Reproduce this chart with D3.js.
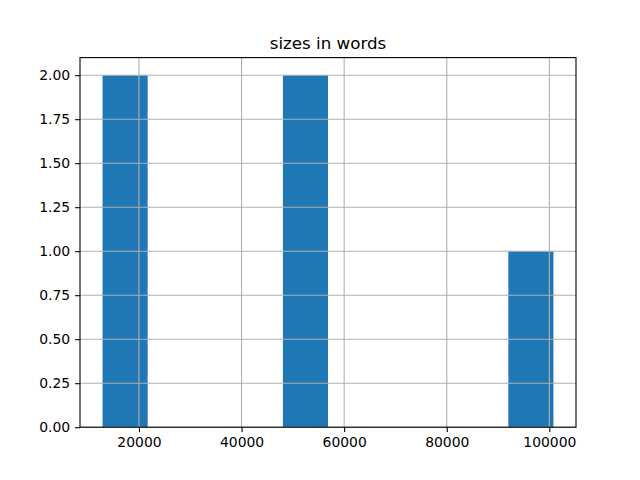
<!DOCTYPE html>
<html><head><meta charset="utf-8">
<script src="https://cdn.jsdelivr.net/npm/d3@7"></script>
<style>body{margin:0;background:#fff}svg{display:block}text{font-family:"DejaVu Sans",sans-serif;fill:#000}</style>
</head><body>
<script>
const sizes = [12900, 18500, 49500, 54000, 100800];
const binCount = 10;
const xTicks = [20000, 40000, 60000, 80000, 100000];
const yTicks = [0, 0.25, 0.5, 0.75, 1.0, 1.25, 1.5, 1.75, 2.0];
const title = "sizes in words";

const W = 640, H = 480;
const m = {left: 80, right: 576, top: 57.6, bottom: 427.2};
const svg = d3.select("body").append("svg").attr("width", W).attr("height", H);

const [mn, mx] = d3.extent(sizes);
const step = (mx - mn) / binCount;
const thresholds = d3.range(1, binCount).map(i => mn + i * step);
const bins = d3.bin().domain([mn, mx]).thresholds(thresholds)(sizes);

const pad = (mx - mn) * 0.05;
const x = d3.scaleLinear().domain([mn - pad, mx + pad]).range([m.left, m.right]);
const ymax = d3.max(bins, b => b.length) * 1.05;
const y = d3.scaleLinear().domain([0, ymax]).range([m.bottom, m.top]);

// bars
svg.append("g").selectAll("rect").data(bins.filter(b => b.length > 0)).join("rect")
  .attr("x", d => x(d.x0)).attr("width", d => x(d.x1) - x(d.x0))
  .attr("y", d => y(d.length)).attr("height", d => y(0) - y(d.length))
  .attr("fill", "#1f77b4");

// grid (above patches, as in matplotlib)
const grid = svg.append("g").attr("stroke", "#b0b0b0").attr("stroke-width", 1.1);
xTicks.forEach(t => grid.append("line").attr("x1", x(t)).attr("x2", x(t)).attr("y1", m.top).attr("y2", m.bottom));
yTicks.forEach(t => grid.append("line").attr("y1", y(t)).attr("y2", y(t)).attr("x1", m.left).attr("x2", m.right));

// axes
const xAxis = d3.axisBottom(x).tickValues(xTicks).tickFormat(d3.format("d")).tickSize(4.9).tickPadding(4.9);
const yAxis = d3.axisLeft(y).tickValues(yTicks).tickFormat(d3.format(".2f")).tickSize(4.9).tickPadding(4.9);
const gx = svg.append("g").attr("transform", `translate(0,${m.bottom})`).call(xAxis);
const gy = svg.append("g").attr("transform", `translate(${m.left},0)`).call(yAxis);
[gx, gy].forEach(g => {
  g.select(".domain").remove();
  g.selectAll(".tick line").attr("stroke", "#000").attr("stroke-width", 1.1);
  g.selectAll(".tick text").attr("font-size", 13.9).attr("font-family", "DejaVu Sans");
});

// spines
svg.append("rect").attr("x", m.left).attr("y", m.top).attr("width", m.right - m.left).attr("height", m.bottom - m.top)
  .attr("fill", "none").attr("stroke", "#000").attr("stroke-width", 1.1);

svg.append("text").attr("x", (m.left + m.right) / 2).attr("y", 49).attr("text-anchor", "middle")
  .attr("font-size", 16.7).text(title);
</script>
</body></html>
